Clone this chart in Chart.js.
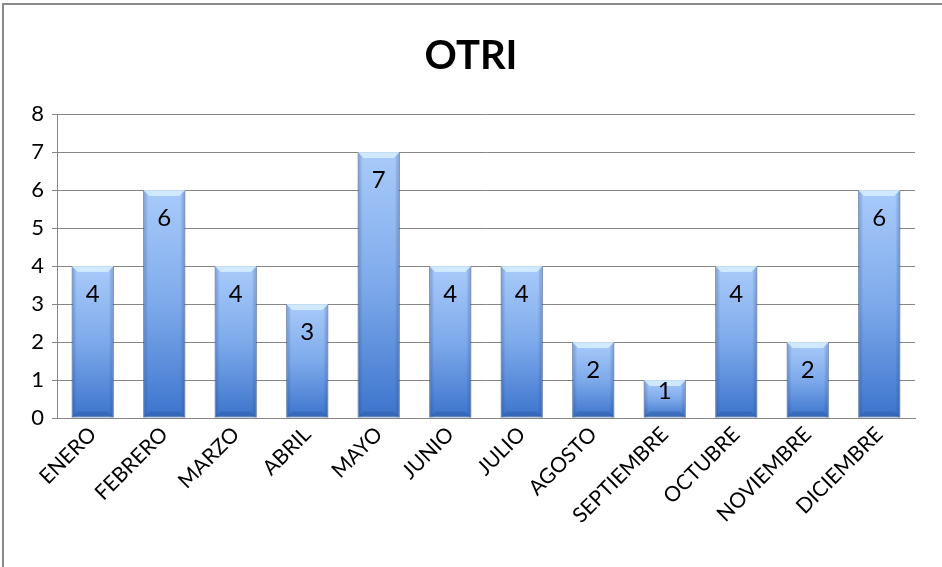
<!DOCTYPE html>
<html>
<head>
<meta charset="utf-8">
<script src="https://cdn.jsdelivr.net/npm/chart.js@4"></script>
<style>
  html, body { margin: 0; padding: 0; background: #fff; }
  #wrap { width: 942px; height: 567px; position: relative; }
</style>
</head>
<body>
<div id="wrap"><canvas id="c" width="942" height="567"></canvas></div>
<script>
// Monthly OTRI counts
const months = ['ENERO', 'FEBRERO', 'MARZO', 'ABRIL', 'MAYO', 'JUNIO', 'JULIO',
                'AGOSTO', 'SEPTIEMBRE', 'OCTUBRE', 'NOVIEMBRE', 'DICIEMBRE'];
const counts = [4, 6, 4, 3, 7, 4, 4, 2, 1, 4, 2, 6];
const yTicks = [0, 1, 2, 3, 4, 5, 6, 7, 8];
const chartTitle = 'OTRI';

const FONT = 'Lato, "Noto Sans", sans-serif';

// Per-bar vertical gradient: light at the top, deeper blue at the base
function barFill(ctx) {
  const chart = ctx.chart;
  const y = chart.scales.y;
  if (!y || ctx.type !== 'data') return '#6a9de6';
  const top = y.getPixelForValue(ctx.raw);
  const base = y.getPixelForValue(0);
  if (!isFinite(top) || !isFinite(base) || top === base) return '#6a9de6';
  const g = chart.ctx.createLinearGradient(0, top, 0, base);
  g.addColorStop(0, '#a9cbfa');
  g.addColorStop(0.5, '#7eaaeb');
  g.addColorStop(1, '#3c74cc');
  return g;
}

// Outer frame of the chart
const framePlugin = {
  id: 'frame',
  beforeDraw(chart) {
    const c = chart.ctx;
    c.save();
    c.fillStyle = '#ffffff';
    c.fillRect(0, 0, chart.width, chart.height);
    c.strokeStyle = '#8a8a8a';
    c.lineWidth = 2;
    c.strokeRect(3, 4, chart.width + 20, chart.height + 20);
    c.restore();
  }
};

// Centered bold heading above the plot
const headingPlugin = {
  id: 'heading',
  afterDraw(chart) {
    const c = chart.ctx;
    c.save();
    c.font = 'bold 40px ' + FONT;
    c.fillStyle = '#000';
    c.textAlign = 'center';
    c.textBaseline = 'middle';
    c.fillText(chartTitle, chart.width / 2, 56);
    c.restore();
  }
};

// Bevel shading on each bar plus the value label inside its top end
const bevelPlugin = {
  id: 'bevel',
  afterDatasetsDraw(chart) {
    const c = chart.ctx;
    const meta = chart.getDatasetMeta(0);
    const ds = chart.data.datasets[0];
    meta.data.forEach((bar, i) => {
      const p = bar.getProps(['x', 'y', 'base', 'width'], true);
      const l = p.x - p.width / 2, r = p.x + p.width / 2;
      const t = p.y, b = p.base, h = b - t;
      const e = Math.min(6, h / 4);
      c.save();
      // darker side edges
      const side = c.createLinearGradient(l, 0, r, 0);
      side.addColorStop(0, 'rgba(30,60,120,0.35)');
      side.addColorStop(0.12, 'rgba(30,60,120,0.0)');
      side.addColorStop(0.88, 'rgba(30,60,120,0.0)');
      side.addColorStop(1, 'rgba(30,60,120,0.35)');
      c.fillStyle = side;
      c.fillRect(l, t, r - l, h);
      // light top cap
      c.beginPath();
      c.moveTo(l, t); c.lineTo(r, t); c.lineTo(r - e, t + e); c.lineTo(l + e, t + e);
      c.closePath();
      c.fillStyle = 'rgba(215,238,255,0.85)';
      c.fill();
      // darker base strip
      c.beginPath();
      c.moveTo(l, b); c.lineTo(r, b); c.lineTo(r - e, b - e); c.lineTo(l + e, b - e);
      c.closePath();
      c.fillStyle = 'rgba(40,80,150,0.35)';
      c.fill();
      // value label
      c.font = '24px ' + FONT;
      c.fillStyle = '#000';
      c.textAlign = 'center';
      c.textBaseline = 'middle';
      const off = Math.min(28, h - 26);
      c.fillText(String(ds.data[i]), p.x, t + off);
      c.restore();
    });
  }
};

new Chart(document.getElementById('c'), {
  type: 'bar',
  data: {
    labels: months,
    datasets: [{
      data: counts,
      backgroundColor: barFill,
      borderColor: 'rgba(60,100,170,0.6)',
      borderWidth: 1,
      borderSkipped: false,
      categoryPercentage: 1.0,
      barPercentage: 0.59
    }]
  },
  options: {
    responsive: false,
    animation: false,
    devicePixelRatio: 1,
    layout: { padding: { left: 5, right: 27, top: 114, bottom: 0 } },
    plugins: {
      legend: { display: false },
      title: { display: false },
      tooltip: { enabled: false }
    },
    scales: {
      x: {
        offset: true,
        grid: { display: false, drawTicks: false },
        border: { display: true, color: '#868686', width: 1 },
        ticks: {
          font: { family: FONT, size: 21 },
          color: '#000',
          maxRotation: 45,
          minRotation: 45,
          padding: 4,
          autoSkip: false
        },
        afterFit(s) { s.height = 567 - 418; }
      },
      y: {
        min: 0,
        max: 8,
        afterBuildTicks(s) { s.ticks = yTicks.map(v => ({ value: v })); },
        grid: { color: '#868686', lineWidth: 1, drawTicks: true, tickLength: 5 },
        border: { display: true, color: '#868686', width: 1 },
        ticks: {
          font: { family: FONT, size: 22 },
          color: '#000',
          padding: 8
        },
        afterFit(s) { s.width = 52; }
      }
    }
  },
  plugins: [framePlugin, headingPlugin, bevelPlugin]
});
</script>
</body>
</html>
